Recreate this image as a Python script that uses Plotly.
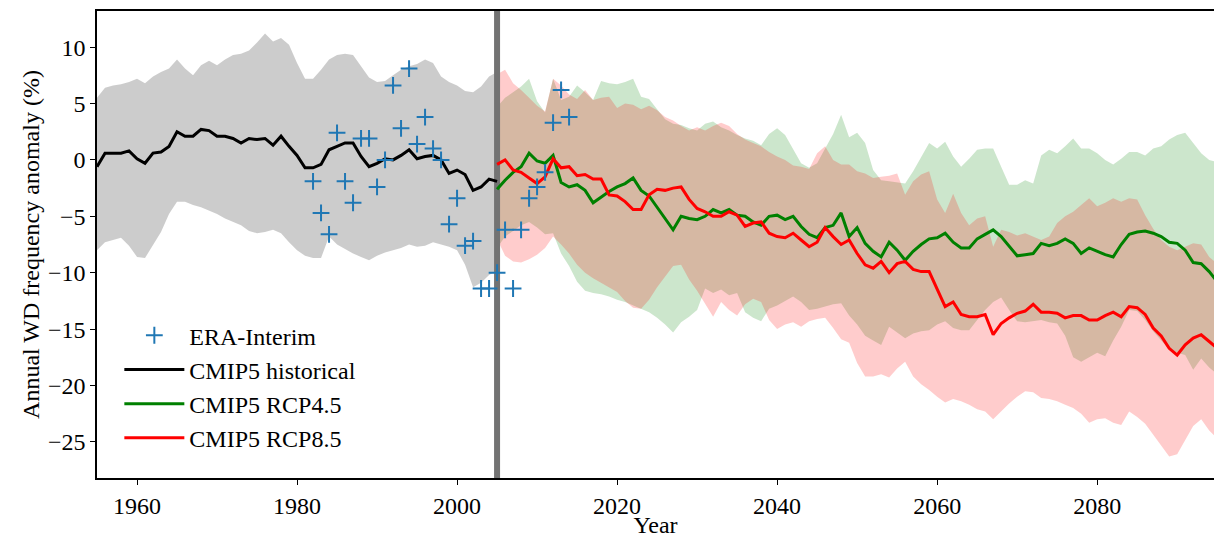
import plotly.graph_objects as go

# ---------------- data ----------------
HIST_YEARS = list(range(1955, 2006))
HIST_MEAN = [-0.6, 0.6, 0.6, 0.6, 0.8, 0.1, -0.3, 0.6, 0.7, 1.2,
             2.5, 2.1, 2.1, 2.7, 2.6, 2.1, 2.1, 1.9, 1.5, 1.9,
             1.8, 1.9, 1.3, 2.1, 1.2, 0.4, -0.7, -0.7, -0.4, 0.9,
             1.2, 1.5, 1.5, 0.3, -0.6, -0.3, 0.1, 0.0, 0.4, 0.9,
             0.1, 0.3, 0.4, 0.0, -1.2, -0.9, -1.3, -2.7, -2.4, -1.7,
             -1.9]
HIST_UPPER = [5.5, 6.4, 6.6, 6.7, 6.9, 7.2, 6.8, 7.4, 7.8, 8.1,
              8.9, 8.1, 7.5, 8.4, 8.8, 8.4, 8.9, 9.3, 9.4, 9.7,
              10.4, 11.2, 10.5, 10.8, 10.2, 8.6, 7.2, 7.2, 8.0, 8.9,
              9.3, 9.4, 9.3, 8.3, 7.3, 6.9, 7.0, 7.5, 8.0, 8.3,
              8.5, 8.9, 8.6, 7.4, 6.9, 6.6, 6.1, 6.0, 6.5, 7.4,
              7.8]
HIST_LOWER = [-8.0, -7.3, -7.1, -6.9, -7.6, -8.6, -8.7, -7.5, -6.4, -4.8,
              -3.7, -3.7, -4.0, -4.2, -4.5, -4.8, -5.2, -5.5, -5.8, -6.3,
              -6.5, -6.4, -6.2, -6.5, -7.3, -8.0, -8.5, -8.7, -8.7, -6.8,
              -7.5, -7.9, -8.3, -8.6, -8.9, -8.5, -8.2, -8.0, -7.8, -7.5,
              -7.7, -7.6, -7.3, -7.5, -7.7, -8.0, -9.3, -11.3, -10.9, -10.2,
              -9.8]

FUT_YEARS = list(range(2005, 2096))
RCP45_MEAN = [-2.6, -1.8, -1.1, -0.6, 0.6, -0.1, -0.3, 0.4, -2.0, -2.4,
              -2.2, -2.7, -3.8, -3.3, -2.8, -2.4, -2.1, -1.6, -2.7, -3.2,
              -4.2, -5.2, -6.2, -5.0, -5.2, -5.3, -5.0, -4.4, -4.7, -4.4,
              -4.9, -5.0, -5.5, -5.8, -5.0, -4.9, -5.3, -5.0, -5.9, -6.6,
              -6.9, -6.0, -5.8, -4.7, -6.8, -6.0, -7.4, -8.1, -8.6, -7.3,
              -8.0, -8.9, -8.1, -7.5, -7.0, -6.9, -6.5, -7.3, -7.8, -7.8,
              -7.0, -6.6, -6.2, -6.8, -7.7, -8.5, -8.4, -8.3, -7.4, -7.6,
              -7.4, -7.0, -7.4, -8.3, -7.8, -8.1, -8.4, -8.6, -7.5, -6.6,
              -6.4, -6.3, -6.5, -6.8, -7.3, -7.4, -8.0, -9.1, -9.2, -9.9,
              -10.8]
RCP45_UPPER = [4.7, 5.5, 6.0, 6.5, 7.2, 5.2, 4.2, 7.2, 5.3, 5.6,
               6.6, 6.0, 5.3, 7.0, 6.8, 6.7, 6.9, 7.2, 5.6, 5.4,
               4.5, 3.6, 3.2, 3.1, 2.8, 2.6, 3.2, 3.4, 2.9, 2.6,
               2.2, 1.9, 1.7, 1.3, 2.3, 2.8, 2.2, 1.0, -0.3, -0.7,
               -0.3, 1.0, 2.3, 4.0, 2.0, 2.4, 1.5, -0.9, -1.8, -1.9,
               -2.0, -2.1, -1.0, 0.3, 1.5, 1.0, 1.6, 0.3, -0.6, 0.1,
               0.9, 1.0, 1.0, -0.6, -2.2, -2.2, -1.8, -2.1, 0.4, 0.9,
               0.6, 1.2, 1.9, 1.0, 1.0, 0.6, 0.0, -0.4, 0.1, 0.7,
               0.7, 0.4, 1.0, 1.2, 1.8, 2.2, 2.4, 1.5, 0.6, 0.0,
               -0.2]
RCP45_LOWER = [-7.8, -6.8, -6.3, -5.8, -5.5, -6.0, -6.6, -6.5, -8.3, -9.4,
               -10.8, -11.6, -11.8, -11.9, -12.1, -12.4, -12.6, -12.9, -13.2, -13.5,
               -14.0, -14.6, -15.3, -14.4, -13.9, -13.3, -11.4, -11.8, -11.5, -12.0,
               -11.8, -13.5, -14.0, -14.3, -13.2, -12.9, -12.5, -12.1, -12.6, -13.3,
               -13.2, -13.0, -12.8, -12.7, -13.8, -14.6, -15.6, -16.0, -16.4, -14.8,
               -15.3, -15.8, -15.4, -15.2, -15.1, -14.6, -14.3, -14.9, -15.1, -15.1,
               -14.2, -13.3, -12.6, -12.2, -13.3, -14.3, -14.4, -14.3, -14.2, -14.4,
               -14.5, -15.6, -17.5, -17.9, -17.5, -17.1, -17.4, -16.0, -14.8, -13.3,
               -13.4, -14.2, -15.2, -16.0, -16.8, -17.1, -17.3, -18.6, -17.6, -18.4,
               -19.0]

RCP85_MEAN = [-0.4, 0.0, -0.9, -1.1, -1.6, -2.1, -1.5, 0.1, -0.7, -0.6,
              -1.4, -1.3, -1.7, -1.7, -3.1, -3.2, -3.7, -4.4, -4.4, -3.1,
              -2.6, -2.7, -2.5, -2.4, -3.5, -4.3, -4.6, -5.0, -5.0, -4.6,
              -4.9, -5.9, -5.6, -5.5, -6.5, -6.8, -6.9, -6.5, -7.1, -7.7,
              -7.3, -6.0, -6.8, -7.5, -7.1, -8.3, -9.3, -9.6, -9.0, -10.0,
              -9.2, -9.0, -9.7, -9.9, -9.9, -11.5, -13.0, -12.6, -13.7, -13.9,
              -13.9, -13.7, -15.5, -14.5, -14.0, -13.6, -13.4, -12.8, -13.5, -13.5,
              -13.6, -14.0, -13.8, -13.8, -14.2, -14.2, -13.8, -13.5, -13.9, -13.0,
              -13.1, -13.7, -14.9, -15.6, -16.7, -17.3, -16.4, -15.8, -15.5, -16.1,
              -16.7]
RCP85_UPPER = [7.6, 8.0, 6.8, 6.2, 5.5, 4.8, 4.3, 7.2, 6.6, 5.8,
               5.4, 6.2, 5.3, 5.5, 5.6, 4.6, 5.0, 4.9, 4.5, 4.8,
               4.4, 3.8, 3.5, 3.0, 2.6, 2.9, 2.6, 3.0, 3.3, 3.0,
               2.3, 1.8, 1.5, 1.2, 0.7, 0.3, 0.0, -0.5, -0.6, -0.8,
               0.6, 1.2, 0.0, -0.4, -0.4, -1.0, -1.2, -1.6, -1.5, -1.4,
               -1.2, -3.1, -1.9, -1.3, -1.0, -3.5, -4.7, -3.0, -4.7, -5.8,
               -5.2, -5.0, -7.7, -6.2, -6.4, -6.7, -6.5, -6.8, -7.1, -6.8,
               -5.6, -5.0, -4.6, -4.0, -3.4, -4.1, -3.8, -3.4, -3.7, -3.4,
               -3.5, -4.9, -6.1, -7.1, -7.7, -8.0, -7.7, -7.4, -7.5, -8.6,
               -9.2]
RCP85_LOWER = [-7.0, -8.5, -9.0, -9.1, -8.8, -8.4, -7.8, -6.8, -7.5, -8.3,
               -9.3, -10.0, -10.5, -10.9, -11.3, -11.7, -12.5, -13.1, -13.2, -12.4,
               -11.3, -10.3, -9.4, -9.3, -10.6, -11.6, -12.8, -13.9, -12.6, -13.3,
               -13.8, -12.8, -12.3, -12.6, -14.2, -15.0, -14.6, -14.4, -14.8, -14.3,
               -14.1, -14.0, -14.9, -15.9, -16.2, -18.0, -19.2, -19.2, -19.0, -19.3,
               -18.5, -17.9, -19.2, -19.9, -20.4, -21.0, -21.5, -21.2, -21.4, -21.7,
               -22.1, -22.3, -23.0, -22.3, -21.6, -21.0, -20.5, -20.6, -21.1, -21.2,
               -21.4, -21.7, -22.0, -22.5, -23.3, -23.0, -22.9, -23.3, -23.5, -22.3,
               -22.8, -23.4, -24.4, -25.3, -26.3, -26.1, -24.8, -23.6, -23.0, -24.0,
               -24.7]

ERA_YEARS = list(range(1982, 2015))
ERA_VALUES = [-1.9, -4.7, -6.6, 2.4, -1.9, -3.8, 1.9, 1.9, -2.4, 0.0,
              6.6, 2.8, 8.1, 1.4, 3.8, 1.0, 0.0, -5.7, -3.4, -7.6,
              -7.2, -11.4, -11.4, -10.0, -6.2, -11.4, -6.2, -3.4, -2.4, -1.1,
              3.3, 6.2, 3.8]

SPLIT_YEAR = 2005
X_RANGE = [1955, 2094.6]
Y_RANGE = [-28.2, 13.2]
X_TICKS = [1960, 1980, 2000, 2020, 2040, 2060, 2080]
Y_TICKS = [-25, -20, -15, -10, -5, 0, 5, 10]

FONT = "Liberation Serif"

fig = go.Figure()


def add_band(x, lower, upper, fill):
    fig.add_trace(go.Scatter(x=x, y=lower, mode="lines", line=dict(width=0),
                             showlegend=False, hoverinfo="skip"))
    fig.add_trace(go.Scatter(x=x, y=upper, mode="lines", line=dict(width=0),
                             fill="tonexty", fillcolor=fill,
                             showlegend=False, hoverinfo="skip"))


add_band(HIST_YEARS, HIST_LOWER, HIST_UPPER, "rgba(0,0,0,0.2)")
add_band(FUT_YEARS, RCP45_LOWER, RCP45_UPPER, "rgba(0,128,0,0.2)")
add_band(FUT_YEARS, RCP85_LOWER, RCP85_UPPER, "rgba(255,0,0,0.2)")

# vertical separator at the end of the historical period
fig.add_trace(go.Scatter(x=[SPLIT_YEAR, SPLIT_YEAR], y=Y_RANGE, mode="lines",
                         line=dict(color="#737373", width=6),
                         showlegend=False, hoverinfo="skip"))

fig.add_trace(go.Scatter(x=HIST_YEARS, y=HIST_MEAN, mode="lines",
                         name="CMIP5 historical", legendrank=2,
                         line=dict(color="#000000", width=3)))
fig.add_trace(go.Scatter(x=FUT_YEARS, y=RCP45_MEAN, mode="lines",
                         name="CMIP5 RCP4.5", legendrank=3,
                         line=dict(color="#008000", width=3)))
fig.add_trace(go.Scatter(x=FUT_YEARS, y=RCP85_MEAN, mode="lines",
                         name="CMIP5 RCP8.5", legendrank=4,
                         line=dict(color="#ff0000", width=3)))
fig.add_trace(go.Scatter(x=ERA_YEARS, y=ERA_VALUES, mode="markers",
                         name="ERA-Interim", legendrank=1,
                         marker=dict(symbol="cross-thin", size=12, color="#1f77b4",
                                     line=dict(color="#1f77b4", width=2))))

axis_common = dict(showline=True, linecolor="black", linewidth=1.5, mirror=True,
                   ticks="outside", ticklen=5, tickwidth=1.2, tickcolor="black",
                   showgrid=False, zeroline=False, automargin=False,
                   tickfont=dict(family=FONT, size=24, color="black"))

fig.update_layout(
    width=1214, height=538,
    margin=dict(l=97, r=0, t=11, b=60, autoexpand=False),
    plot_bgcolor="white", paper_bgcolor="white",
    font=dict(family=FONT, size=24, color="black"),
    xaxis=dict(range=X_RANGE, tickvals=X_TICKS,
               title=dict(text="Year", font=dict(family=FONT, size=24), standoff=0),
               **axis_common),
    yaxis=dict(range=Y_RANGE, tickvals=Y_TICKS,
               title=dict(text="Annual WD frequency anomaly (%)",
                          font=dict(family=FONT, size=24), standoff=2),
               **axis_common),
    legend=dict(x=0.020, y=0.353, xanchor="left", yanchor="top",
                traceorder="normal",
                bgcolor="rgba(255,255,255,0)", borderwidth=0,
                font=dict(family=FONT, size=24, color="black"),
                tracegroupgap=0, itemwidth=60),
    showlegend=True,
)

# remove the default page margin so the figure fills the 1214x538 window exactly
fig.write_html("out.html", config={"displayModeBar": False},
               post_script="document.body.style.margin='0px';")
